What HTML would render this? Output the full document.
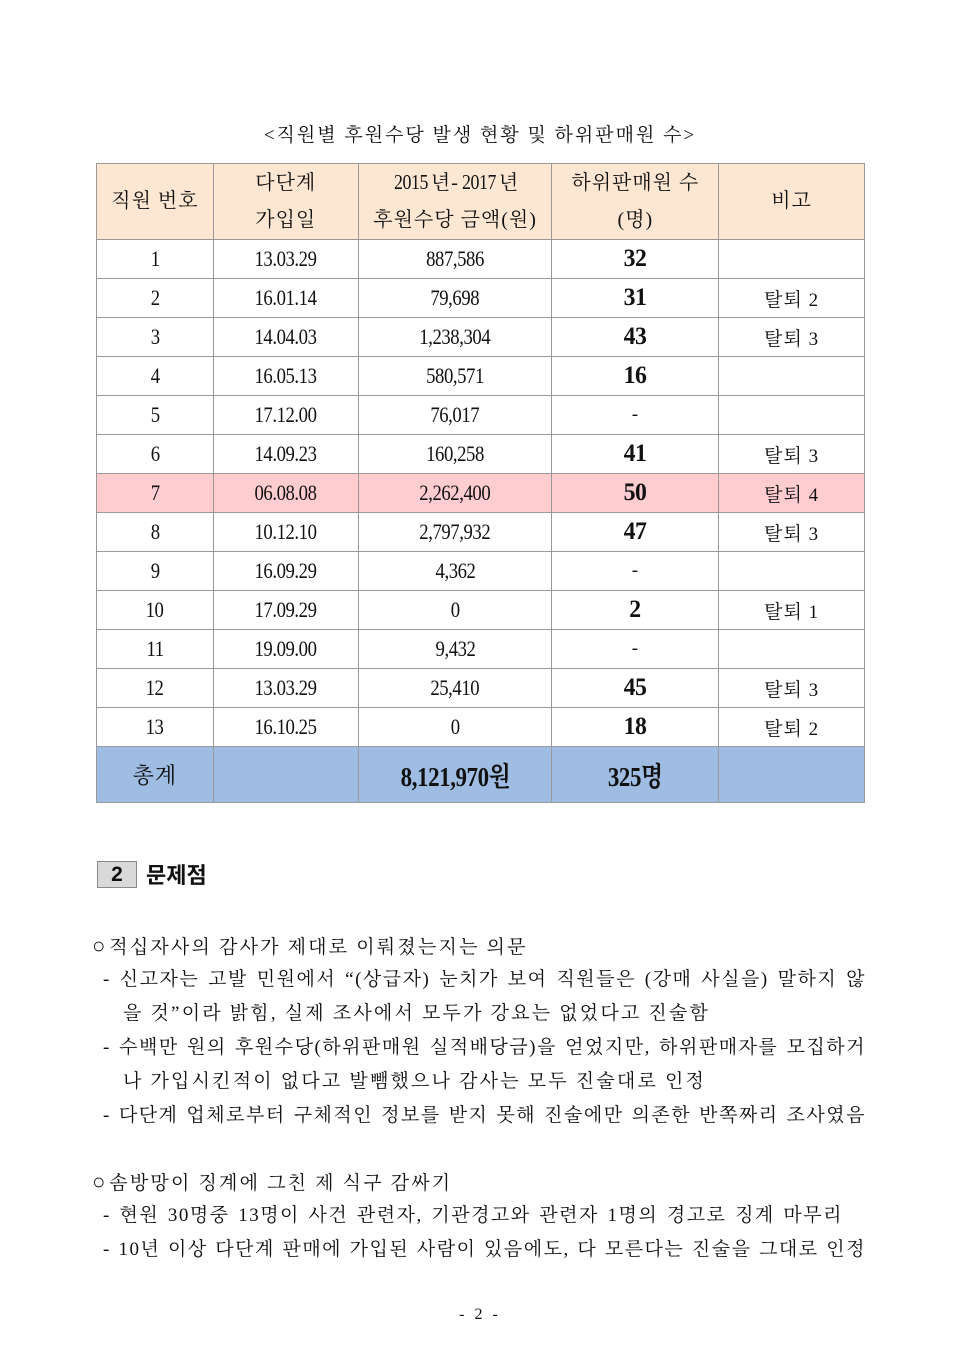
<!DOCTYPE html>
<html><head><meta charset="utf-8"><style>
body{margin:0;background:#fff;width:960px;height:1357px;position:relative;overflow:hidden;font-family:"Liberation Serif","Noto Serif CJK SC",serif;color:#111}
.ab{position:absolute}
.title{left:0;width:960px;top:120px;text-align:center;font-size:19px;letter-spacing:2px}
table{position:absolute;left:96px;top:163px;border-collapse:collapse;width:769px}
td{border:1px solid #999;text-align:center;padding:0;font-size:19px;height:38px;letter-spacing:1px}
.n{display:inline-block;transform:scaleX(0.85);font-size:22px;letter-spacing:-0.5px}
.b{font-weight:bold;font-size:25px;transform:scaleX(0.95)}
.hd td{background:#fde7d2;height:74px;line-height:37px;font-size:20px}
.pk td{background:#ffcccf}
.tot td{background:#9fbde3;height:55px;font-weight:bold;font-size:24px}
.ln{position:absolute;left:103px;width:763px;font-size:19px;text-align-last:justify;text-align:justify;white-space:nowrap;line-height:24px;letter-spacing:1.5px}
.lnl{text-align-last:left;letter-spacing:2.2px}
.sec{left:97px;top:861px;width:38px;height:25px;background:#d9d9d9;border:1px solid #888;font-family:"Liberation Sans",sans-serif;font-weight:bold;font-size:21px;text-align:center;line-height:25px}
.sect{left:146px;top:858px;font-family:"Liberation Sans","Noto Sans CJK KR",sans-serif;font-weight:bold;font-size:22px}
.c{font-size:22px;letter-spacing:4px}
</style></head><body>
<div class="ab title">&lt;직원별 후원수당 발생 현황 및 하위판매원 수&gt;</div>
<table>
<colgroup><col style="width:117px"><col style="width:145px"><col style="width:194px"><col style="width:167px"><col style="width:146px"></colgroup>
<tr class="hd"><td>직원 번호</td><td>다단계<br>가입일</td><td><span class="n" style="font-size:21px">2015</span>년-<span class="n" style="font-size:21px">2017</span>년<br>후원수당 금액(원)</td><td>하위판매원 수<br>(명)</td><td>비고</td></tr>
<tr><td><span class="n">1</span></td><td><span class="n">13.03.29</span></td><td><span class="n">887,586</span></td><td><span class="n b">32</span></td><td></td></tr>
<tr><td><span class="n">2</span></td><td><span class="n">16.01.14</span></td><td><span class="n">79,698</span></td><td><span class="n b">31</span></td><td>탈퇴 2</td></tr>
<tr><td><span class="n">3</span></td><td><span class="n">14.04.03</span></td><td><span class="n">1,238,304</span></td><td><span class="n b">43</span></td><td>탈퇴 3</td></tr>
<tr><td><span class="n">4</span></td><td><span class="n">16.05.13</span></td><td><span class="n">580,571</span></td><td><span class="n b">16</span></td><td></td></tr>
<tr><td><span class="n">5</span></td><td><span class="n">17.12.00</span></td><td><span class="n">76,017</span></td><td>-</td><td></td></tr>
<tr><td><span class="n">6</span></td><td><span class="n">14.09.23</span></td><td><span class="n">160,258</span></td><td><span class="n b">41</span></td><td>탈퇴 3</td></tr>
<tr class="pk"><td><span class="n">7</span></td><td><span class="n">06.08.08</span></td><td><span class="n">2,262,400</span></td><td><span class="n b">50</span></td><td>탈퇴 4</td></tr>
<tr><td><span class="n">8</span></td><td><span class="n">10.12.10</span></td><td><span class="n">2,797,932</span></td><td><span class="n b">47</span></td><td>탈퇴 3</td></tr>
<tr><td><span class="n">9</span></td><td><span class="n">16.09.29</span></td><td><span class="n">4,362</span></td><td>-</td><td></td></tr>
<tr><td><span class="n">10</span></td><td><span class="n">17.09.29</span></td><td><span class="n">0</span></td><td><span class="n b">2</span></td><td>탈퇴 1</td></tr>
<tr><td><span class="n">11</span></td><td><span class="n">19.09.00</span></td><td><span class="n">9,432</span></td><td>-</td><td></td></tr>
<tr><td><span class="n">12</span></td><td><span class="n">13.03.29</span></td><td><span class="n">25,410</span></td><td><span class="n b">45</span></td><td>탈퇴 3</td></tr>
<tr><td><span class="n">13</span></td><td><span class="n">16.10.25</span></td><td><span class="n">0</span></td><td><span class="n b">18</span></td><td>탈퇴 2</td></tr>
<tr class="tot"><td style="font-weight:normal;font-size:22px">총계</td><td></td><td><span class="n" style="font-size:27px">8,121,970원</span></td><td><span class="n" style="font-size:27px">325명</span></td><td></td></tr>
</table>
<div class="ab sec">2</div>
<div class="ab sect">문제점</div>
<div class="ln lnl" style="top:934px;left:92px"><span class="c">○</span>적십자사의 감사가 제대로 이뤄졌는지는 의문</div>
<div class="ln" style="top:968px">- 신고자는 고발 민원에서 “(상급자) 눈치가 보여 직원들은 (강매 사실을) 말하지 않</div>
<div class="ln lnl" style="top:1002px;left:123px">을 것”이라 밝힘, 실제 조사에서 모두가 강요는 없었다고 진술함</div>
<div class="ln" style="top:1036px">- 수백만 원의 후원수당(하위판매원 실적배당금)을 얻었지만, 하위판매자를 모집하거</div>
<div class="ln lnl" style="top:1070px;left:123px">나 가입시킨적이 없다고 발뺌했으나 감사는 모두 진술대로 인정</div>
<div class="ln" style="top:1104px">- 다단계 업체로부터 구체적인 정보를 받지 못해 진술에만 의존한 반쪽짜리 조사였음</div>
<div class="ln lnl" style="top:1170px;left:92px"><span class="c">○</span>솜방망이 징계에 그친 제 식구 감싸기</div>
<div class="ln" style="top:1204px;width:740px">- 현원 30명중 13명이 사건 관련자, 기관경고와 관련자 1명의 경고로 징계 마무리</div>
<div class="ln" style="top:1238px">- 10년 이상 다단계 판매에 가입된 사람이 있음에도, 다 모른다는 진술을 그대로 인정</div>
<div class="ab" style="left:0;width:960px;top:1306px;text-align:center;font-size:16px;letter-spacing:3px">- 2 -</div>
</body></html>
